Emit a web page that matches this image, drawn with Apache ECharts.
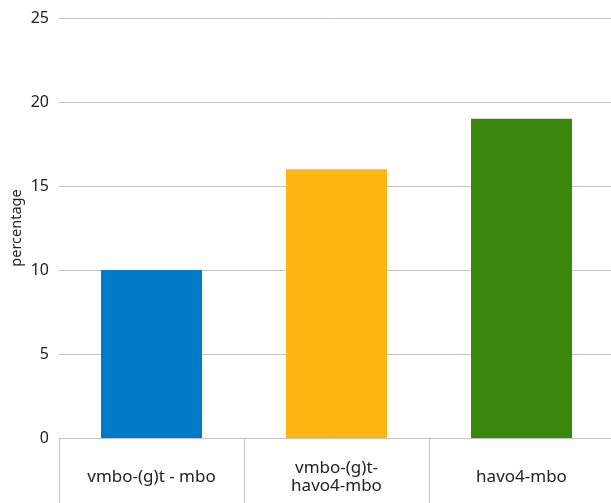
<!DOCTYPE html>
<html>
<head>
<meta charset="utf-8">
<script src="https://cdn.jsdelivr.net/npm/echarts@6/dist/echarts.min.js"></script>
<style>html,body{margin:0;padding:0;background:#fff}#c{width:611px;height:503px}</style>
</head>
<body>
<div id="c"></div>
<script>
const categories = ["vmbo-(g)t - mbo", "vmbo-(g)t-\nhavo4-mbo", "havo4-mbo"];
const values = [10, 16, 19];
const barColors = ["#007bc7", "#ffb612", "#39870c"];
const yTicks = [0, 5, 10, 15, 20, 25];

const chart = echarts.init(document.getElementById('c'), null, {renderer: 'canvas'});
chart.setOption({
  animation: false,
  textStyle: {fontFamily: 'Noto Sans'},
  grid: {left: 59, top: 18, width: 555, height: 420, containLabel: false, outerBoundsMode: 'none'},
  xAxis: {
    type: 'category',
    data: categories,
    boundaryGap: true,
    axisLine: {lineStyle: {color: '#c4c4c4', width: 1}},
    axisTick: {show: true, length: 66, lineStyle: {color: '#c4c4c4', width: 1}},
    axisLabel: {color: '#222', fontSize: 17, margin: 39, verticalAlign: 'middle', lineHeight: 18, interval: 0, fontFamily: 'Noto Sans'}
  },
  yAxis: {
    type: 'value',
    min: yTicks[0], max: yTicks[yTicks.length - 1], interval: 5,
    name: 'percentage',
    nameLocation: 'middle',
    nameGap: 35,
    nameMoveOverlap: false,
    nameTextStyle: {color: '#222', fontSize: 14.5, fontFamily: 'Noto Sans'},
    axisLine: {show: false},
    axisTick: {show: false},
    axisLabel: {color: '#222', fontSize: 16, margin: 10, fontFamily: 'Noto Sans'},
    splitLine: {lineStyle: {color: '#c4c4c4', width: 1}}
  },
  series: [{
    type: 'bar',
    barWidth: 101,
    data: values.map((v, i) => ({value: v, itemStyle: {color: barColors[i]}}))
  }]
});
</script>
</body>
</html>
